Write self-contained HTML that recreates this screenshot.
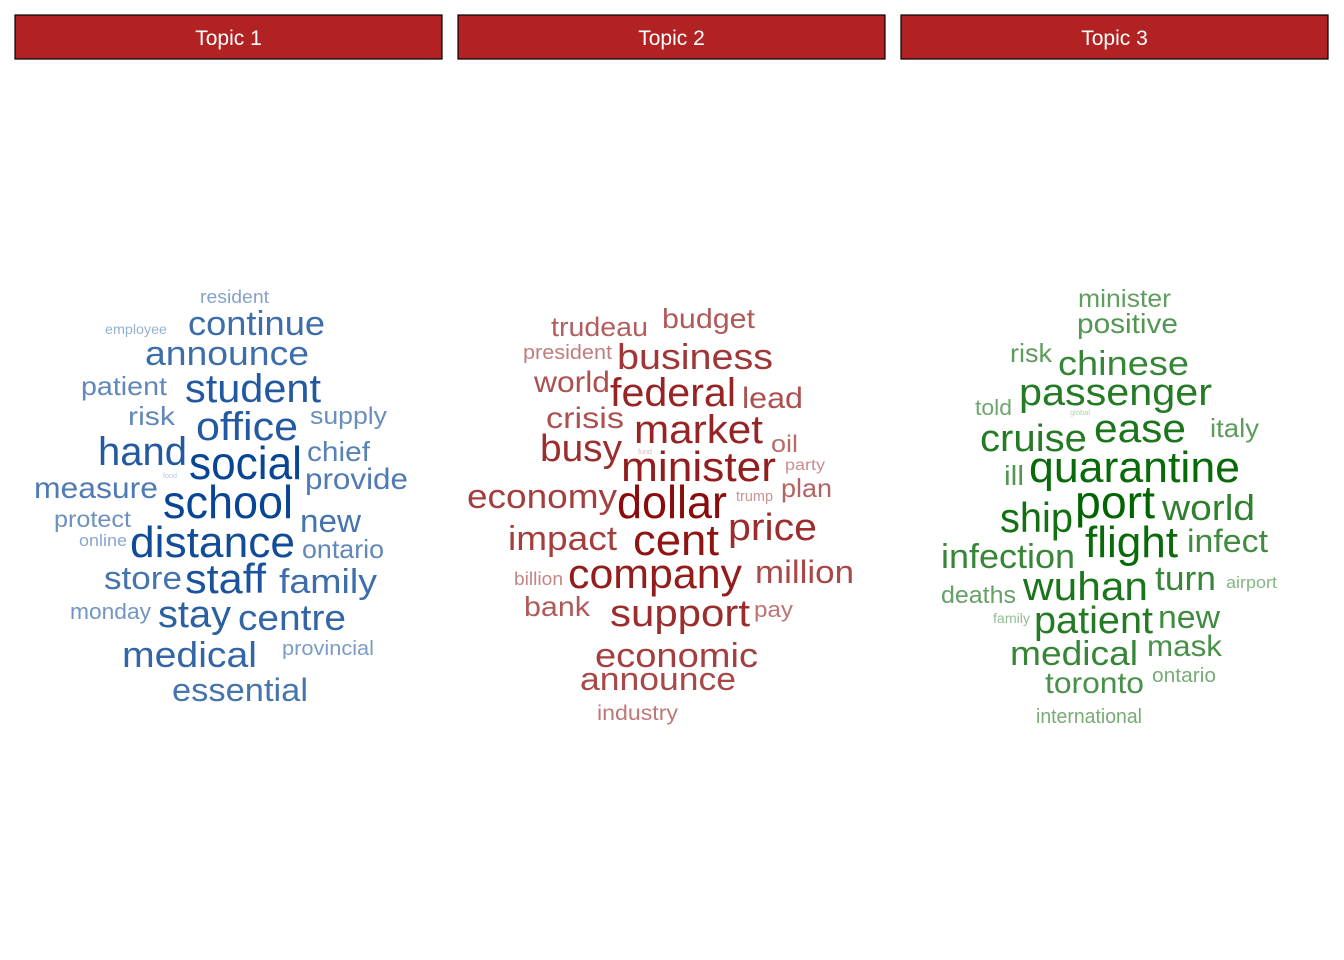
<!DOCTYPE html>
<html><head><meta charset="utf-8"><style>
body{margin:0;background:#fff;}
svg{display:block;font-family:"Liberation Sans",Arial,sans-serif;}
</style></head><body>
<svg id="c" width="1344" height="960">
<g><rect x="15" y="15" width="427" height="44" fill="#b22222" stroke="#000" stroke-width="1.2"/><text x="228.5" y="45" fill="#fff" font-size="21" text-anchor="middle">Topic 1</text></g>
<g><rect x="458" y="15" width="427" height="44" fill="#b22222" stroke="#000" stroke-width="1.2"/><text x="671.5" y="45" fill="#fff" font-size="21" text-anchor="middle">Topic 2</text></g>
<g><rect x="901" y="15" width="427" height="44" fill="#b22222" stroke="#000" stroke-width="1.2"/><text x="1114.5" y="45" fill="#fff" font-size="21" text-anchor="middle">Topic 3</text></g>
</svg>
<script>
// Topic 1
const words1=["resident","employee","continue","announce","patient","student","risk","supply","office","hand","social","chief","provide","food","measure","school","protect","new","online","distance","ontario","store","staff","family","monday","stay","centre","provincial","medical","essential"];
const sizes1=[18,14,34,34,26,40,26,24,40,40,46,28,30,7,30,46,23,32,17,44,26,32,42,34,22,38,36,20,36,32];
const x1=[200,105,188,145,81,185,128,310,196,98,189,307,305,163,34,163,54,300,79,130,302,104,185,279,70,158,238,282,122,172];
const r1=[269,167,325,309,167,321,175,387,298,187,302,370,408,177,158,293,131,361,127,295,384,182,266,377,151,231,346,374,257,308];
const y1=[303,334,335,365,395,402,425,424,440,465,479,461,489,478,498,518,527,532,546,557,558,589,593,593,619,627,630,655,667,701];
// Topic 2
const words2=["trudeau","budget","president","business","world","federal","lead","crisis","market","oil","busy","fund","minister","party","plan","trump","economy","dollar","price","impact","cent","billion","company","million","bank","support","pay","economic","announce","industry"];
const sizes2=[27,28,20,36,30,40,30,30,40,24,38,7,42,16,26,15,34,46,38,34,44,18,42,32,28,38,22,34,32,21];
const x2=[551,662,523,617,534,610,742,546,634,771,540,638,621,785,781,736,467,617,728,508,633,514,568,755,524,610,754,595,580,597];
const r2=[648,755,612,773,610,736,803,624,763,798,622,652,776,825,832,773,617,727,817,617,719,563,742,854,590,750,793,758,736,678];
const y2=[336,328,359,369,392,406,408,428,443,452,461,454,481,470,497,501,508,518,540,550,555,585,588,583,616,626,617,667,690,720];
// Topic 3
const words3=["minister","positive","risk","chinese","passenger","told","global","cruise","ease","italy","ill","quarantine","ship","port","world","flight","infect","infection","turn","airport","wuhan","deaths","family","patient","new","medical","mask","toronto","ontario","international"];
const sizes3=[25,28,26,34,38,22,7,38,40,26,28,44,42,46,36,44,32,34,34,17,40,24,14,38,32,34,30,30,20,20];
const x3=[1078,1077,1010,1058,1019,975,1070,980,1094,1210,1004,1029,1000,1075,1162,1085,1187,941,1155,1226,1023,941,993,1034,1158,1010,1147,1045,1152,1036];
const r3=[1171,1178,1052,1189,1212,1012,1090,1087,1186,1259,1024,1240,1073,1155,1255,1178,1268,1075,1216,1277,1148,1016,1030,1153,1220,1138,1222,1144,1216,1142];
const y3=[307,333,362,375,405,415,415,451,442,437,485,482,532,518,520,557,552,568,590,588,600,603,623,633,628,665,656,693,682,723];

const svg=document.getElementById('c');
const NS='http://www.w3.org/2000/svg';
function draw(words,sizes,xs,rs,ys,base,topic){
  const g=document.createElementNS(NS,'g');
  
  
  svg.appendChild(g);
  for(let i=0;i<words.length;i++){
    const t=document.createElementNS(NS,'text');
    
    
    t.setAttribute('x',xs[i]);
    t.setAttribute('y',ys[i]);
    t.setAttribute('font-size',sizes[i]);
    t.setAttribute('textLength',rs[i]-xs[i]);
    t.setAttribute('lengthAdjust','spacingAndGlyphs');
    const a=Math.max(0.3,Math.min(1,0.3+0.7*(sizes[i]-7)/39));
    const c=base.map(v=>Math.round(255-(255-v)*a));
    t.setAttribute('fill','rgb('+c.join(',')+')');
    t.textContent=words[i];
    g.appendChild(t);
  }
}
draw(words1,sizes1,x1,r1,y1,[8,69,148],1);
draw(words2,sizes2,x2,r2,y2,[139,10,10],2);
draw(words3,sizes3,x3,r3,y3,[0,100,0],3);
</script>
</body></html>
